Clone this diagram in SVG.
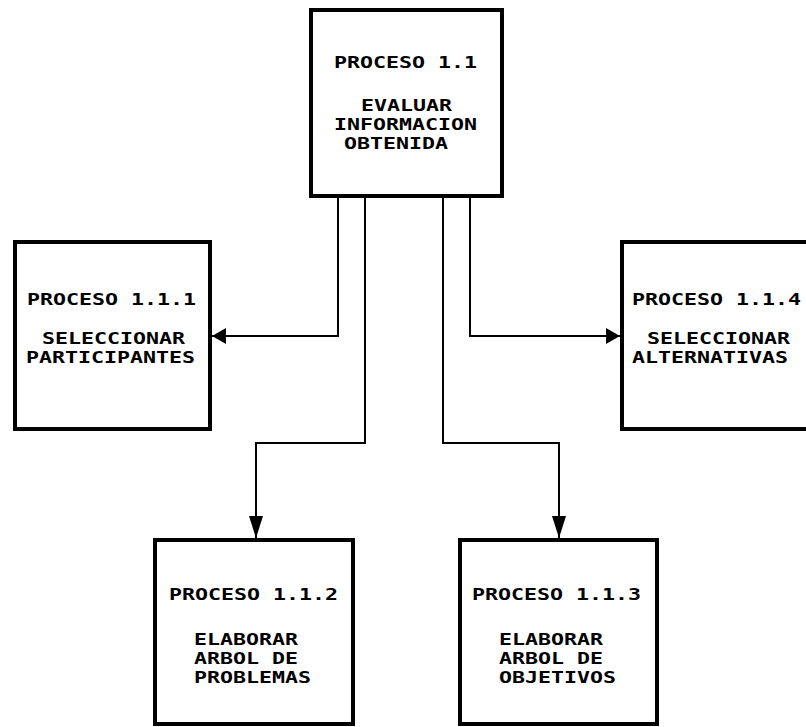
<svg xmlns="http://www.w3.org/2000/svg" width="806" height="727" viewBox="0 0 806 727">
<style>
.box{fill:#fff;stroke:#000;stroke-width:4}
.lbl{font-family:"DejaVu Sans Mono","Liberation Mono",monospace;font-size:16.2px;font-weight:bold;fill:#000}
.con{fill:none;stroke:#000;stroke-width:2}
</style>
<defs>
<marker id="ah" viewBox="0 0 14 16" refX="14" refY="8" markerWidth="14" markerHeight="16" markerUnits="userSpaceOnUse" orient="auto"><path d="M0,0 L14,8 L0,16 z" fill="#000"/></marker>
<marker id="av" viewBox="0 0 22 14" refX="22" refY="7" markerWidth="22" markerHeight="14" markerUnits="userSpaceOnUse" orient="auto"><path d="M0,0 L22,7 L0,14 z" fill="#000"/></marker>
</defs>
<rect width="806" height="727" fill="#fff"/>
<g id="connectors">
<path class="con" d="M338,196 V336 H212" marker-end="url(#ah)"/>
<path class="con" d="M365,196 V443 H256 V538" marker-end="url(#av)"/>
<path class="con" d="M443,196 V443 H559 V538" marker-end="url(#av)"/>
<path class="con" d="M470,196 V336 H620" marker-end="url(#ah)"/>
</g>
<g id="p11">
<rect class="box" x="311" y="10" width="191" height="186"/>
<text class="lbl" x="334" y="68" textLength="143" lengthAdjust="spacingAndGlyphs">PROCESO 1.1</text>
<text class="lbl" x="361" y="111" textLength="91" lengthAdjust="spacingAndGlyphs">EVALUAR</text>
<text class="lbl" x="334" y="130" textLength="143" lengthAdjust="spacingAndGlyphs">INFORMACION</text>
<text class="lbl" x="344" y="149" textLength="104" lengthAdjust="spacingAndGlyphs">OBTENIDA</text>
</g>
<g id="p111">
<rect class="box" x="15" y="242" width="195" height="187"/>
<text class="lbl" x="27" y="305" textLength="169" lengthAdjust="spacingAndGlyphs">PROCESO 1.1.1</text>
<text class="lbl" x="42" y="344" textLength="143" lengthAdjust="spacingAndGlyphs">SELECCIONAR</text>
<text class="lbl" x="26" y="363" textLength="169" lengthAdjust="spacingAndGlyphs">PARTICIPANTES</text>
</g>
<g id="p114">
<rect class="box" x="622" y="242" width="192" height="187"/>
<text class="lbl" x="632" y="305" textLength="169" lengthAdjust="spacingAndGlyphs">PROCESO 1.1.4</text>
<text class="lbl" x="647" y="344" textLength="143" lengthAdjust="spacingAndGlyphs">SELECCIONAR</text>
<text class="lbl" x="632" y="363" textLength="156" lengthAdjust="spacingAndGlyphs">ALTERNATIVAS</text>
</g>
<g id="p112">
<rect class="box" x="155" y="540" width="198" height="184"/>
<text class="lbl" x="169" y="600" textLength="169" lengthAdjust="spacingAndGlyphs">PROCESO 1.1.2</text>
<text class="lbl" x="194" y="645" textLength="104" lengthAdjust="spacingAndGlyphs">ELABORAR</text>
<text class="lbl" x="194" y="664" textLength="104" lengthAdjust="spacingAndGlyphs">ARBOL DE</text>
<text class="lbl" x="194" y="683" textLength="117" lengthAdjust="spacingAndGlyphs">PROBLEMAS</text>
</g>
<g id="p113">
<rect class="box" x="460" y="540" width="197" height="184"/>
<text class="lbl" x="472" y="600" textLength="169" lengthAdjust="spacingAndGlyphs">PROCESO 1.1.3</text>
<text class="lbl" x="499" y="645" textLength="104" lengthAdjust="spacingAndGlyphs">ELABORAR</text>
<text class="lbl" x="499" y="664" textLength="104" lengthAdjust="spacingAndGlyphs">ARBOL DE</text>
<text class="lbl" x="499" y="683" textLength="117" lengthAdjust="spacingAndGlyphs">OBJETIVOS</text>
</g>
</svg>
